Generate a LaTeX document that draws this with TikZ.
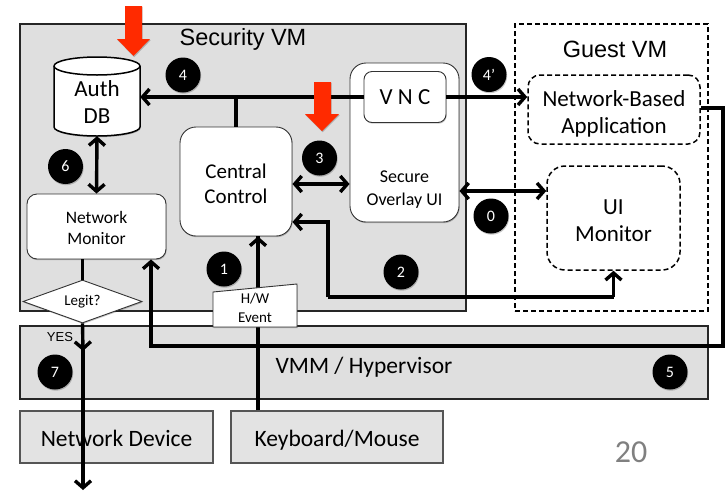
\documentclass[tikz,border=0pt]{standalone}
\usepackage{fontspec}
\setmainfont{Carlito}
\newfontfamily\arialf{Liberation Sans}
\usetikzlibrary{arrows.meta,shapes.geometric,shadows}
\definecolor{boxgray}{HTML}{DFDFDF}
\definecolor{devgray}{HTML}{E3E3E3}
\definecolor{redarrow}{HTML}{FF2A00}
\definecolor{edgegray}{HTML}{555555}
\newcommand{\lowerfirst}[1]{\rule{0pt}{#1}}
\tikzset{
  softshadow/.style={drop shadow={shadow xshift=0.7pt,shadow yshift=-1.2pt,opacity=.22,fill=black}},
  grayregion/.style={draw=black!85,line width=1.5pt,fill=boxgray,inner sep=0pt,softshadow},
  device/.style={draw=edgegray,line width=1.2pt,fill=devgray,inner sep=0pt,softshadow,font=\fontsize{23.5}{26}\selectfont},
  whitebox/.style={draw=black!80,line width=.9pt,fill=white,inner sep=0pt,align=center,softshadow},
  dashbox/.style={draw=black,line width=1.5pt,dash pattern=on 5pt off 3pt,fill=white,inner sep=0pt,align=center,font=\fontsize{23}{27}\selectfont},
  numdot/.style={circle,fill=black,text=white,minimum size=35pt,inner sep=0pt,softshadow,font=\fontsize{16}{16}\selectfont},
  conn/.style={draw=black,line width=3.4pt},
  barb/.style={-{Straight Barb[length=7pt,width=16pt,line width=3.4pt]}},
  dbarb/.style={{Straight Barb[length=7pt,width=16pt,line width=3.4pt]}-{Straight Barb[length=7pt,width=16pt,line width=3.4pt]}},
  redmark/.style={fill=redarrow,draw=none,softshadow},
  title/.style={inner sep=0pt,font=\arialf\fontsize{23.5}{26}\selectfont}
}
\begin{document}
\begin{tikzpicture}[x=1pt,y=-1pt]
\useasboundingbox[fill=white] (0,0) rectangle (725,491);
% regions
\node[grayregion,minimum width=446pt,minimum height=287pt] (secvm) at (243,167.5) {};
\node[grayregion,minimum width=688pt,minimum height=73pt] (vmm) at (364,362.5) {};
\node[draw=black,line width=1.5pt,dash pattern=on 5pt off 3pt,inner sep=0pt,minimum width=193pt,minimum height=287pt] (guest) at (611.5,167.5) {};
\node[device,minimum width=193pt,minimum height=52pt] (netdev) at (116.5,437) {\lowerfirst{20pt}Network Device};
\node[device,minimum width=212pt,minimum height=52pt] (kbd) at (337,437) {\lowerfirst{22pt}Keyboard/Mouse};
\node[title] (sectitle) at (243,39) {Security VM};
\node[title] (guesttitle) at (615,49.5) {Guest VM};
\node[inner sep=0pt,font=\fontsize{23.5}{26}\selectfont] (vmmtitle) at (364,367) {VMM / Hypervisor};
% auth DB
\draw[draw=black,line width=1.5pt,fill=white,softshadow] (54,66) -- (54,127) arc[start angle=180,end angle=360,x radius=43,y radius=-9] -- (140,66) arc[start angle=0,end angle=180,x radius=43,y radius=-9] -- cycle;
\draw[draw=black,line width=1.5pt] (54,66) arc[start angle=180,end angle=360,x radius=43,y radius=-9];
\node[inner sep=0pt,minimum width=86pt,minimum height=79pt,align=center,font=\fontsize{23}{27}\selectfont] (authdb) at (97,96.5) {\lowerfirst{26pt}Auth\\DB};
% boxes
\node[whitebox,rounded corners=16pt,minimum width=112pt,minimum height=109pt,font=\fontsize{21}{25}\selectfont] (central) at (236,181.5) {\lowerfirst{19pt}Central\\Control};
\node[whitebox,rounded corners=10pt,minimum width=139pt,minimum height=65pt,font=\fontsize{17.5}{21}\selectfont] (monitor) at (96.5,226.5) {\lowerfirst{15pt}Network\\Monitor};
\node[whitebox,rounded corners=16pt,minimum width=109pt,minimum height=159pt] (overlay) at (404.5,142.5) {};
\node[inner sep=0pt,align=center,font=\fontsize{18}{23}\selectfont] (overlaytext) at (404.5,189.5) {Secure\\Overlay UI};
\node[whitebox,rounded corners=8pt,minimum width=82pt,minimum height=51pt,font=\fontsize{23}{25}\selectfont] (vnc) at (405,97) {V N C};
\node[dashbox,rounded corners=12pt,minimum width=172pt,minimum height=69pt] (app) at (614,109.5) {\lowerfirst{25pt}Network-Based\\Application};
\node[dashbox,rounded corners=18pt,minimum width=133pt,minimum height=104pt] (uimon) at (613.5,218) {\lowerfirst{21pt}UI\\Monitor};
% connectors
\coordinate (bend2) at (328,297);
\coordinate (bend5) at (723,346);
\draw[conn,barb] (vnc.west) -- (authdb.east |- vnc.west);
\draw[conn,barb] (vnc.east) -- (app.west |- vnc.east);
\draw[conn] (central.north) -- (central.north |- vnc.west);
\draw[conn,dbarb] (authdb.south) -- (monitor.north);
\draw[conn,dbarb] (central.east |- 0,184) -- (overlay.west |- 0,184);
\draw[conn,dbarb] (overlay.east |- 0,191) -- (uimon.west |- 0,191);
\draw[conn,barb] (uimon.south |- bend2) -- (uimon.south);
\draw[conn,barb,line join=miter] (bend2) -- (bend2 |- 0,222) -- (central.east |- 0,222);
\draw[conn] (bend2) -- (uimon.south |- bend2);
\draw[conn,barb,line join=miter] (app.east |- 0,108) -| (bend5) -- (151,346) -- ([xshift=54.5pt]monitor.south);
\draw[conn] ([xshift=-79pt]kbd.north) -- ([xshift=22pt]central.south);
\draw[conn,barb] ([xshift=22pt]central.south |- 0,300) -- ([xshift=22pt]central.south);
\node[draw=black!80,line width=.9pt,fill=white,diamond,aspect=2.77,inner sep=0pt,minimum width=119pt,minimum height=43pt,font=\fontsize{15}{16}\selectfont,softshadow] (legit) at (82.5,301.5) {Legit?};
\draw[conn] (monitor.south -| legit.north) -- (legit.north);
\coordinate (netout) at (83,490);
\draw[conn,barb] (legit.south) -- (83,351);
\draw[conn,barb] (83,345) -- (netout);
% H/W event
\draw[draw=black!80,line width=.9pt,fill=white,softshadow] (213,292) -- (297,284) -- (297,327) -- (213,327) -- cycle;
\node[inner sep=0pt,align=center,font=\fontsize{15}{18.5}\selectfont] (hwevent) at (255,308) {H/W\\Event};
\node[inner sep=0pt,font=\arialf\fontsize{13}{15}\selectfont] (yes) at (60,337.5) {YES};
% red marks
\fill[redmark] (125,6) -- (142,6) -- (142,39) -- (150,39) -- (133.5,56) -- (117,39) -- (125,39) -- cycle;
\fill[redmark] (314,82) -- (331,82) -- (331,114) -- (339,114) -- (322,131) -- (305,114) -- (314,114) -- cycle;
% numbers
\node[numdot] (n4) at (183,75) {4};
\node[numdot] (n3) at (319.5,158) {3};
\node[numdot] (n6) at (65.5,166.5) {6};
\node[numdot] (n1) at (224,269) {1};
\node[numdot] (n7) at (55,372) {7};
\node[numdot] (n2) at (401,272) {2};
\node[numdot] (n4p) at (489,74.5) {4'};
\node[numdot] (n0) at (491,216) {0};
\node[numdot] (n5) at (670,372) {5};
\node[inner sep=0pt,text=black!50,font=\fontsize{32}{36}\selectfont] (page) at (631,452) {20};
\end{tikzpicture}
\end{document}
